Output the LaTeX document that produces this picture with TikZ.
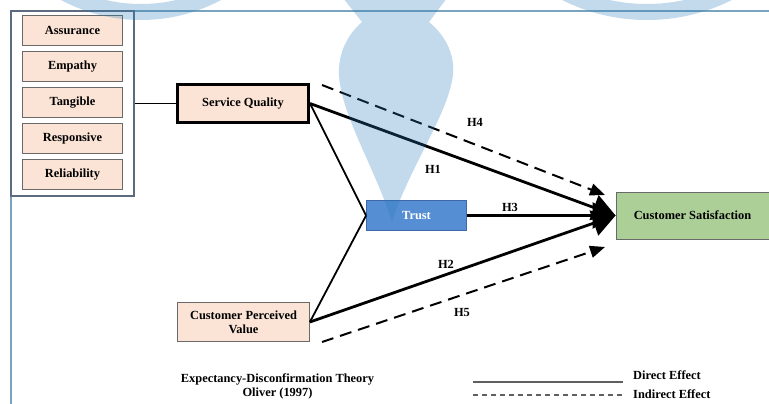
\documentclass[tikz,border=0pt]{standalone}
\usepackage{fontspec}
\setmainfont{Liberation Serif}
\usetikzlibrary{arrows.meta}

\definecolor{peach}{RGB}{251,228,214}
\definecolor{boxgray}{RGB}{105,105,105}
\definecolor{trustfill}{RGB}{86,142,212}
\definecolor{trustline}{RGB}{62,104,170}
\definecolor{satfill}{RGB}{172,207,152}
\definecolor{framec}{RGB}{122,164,190}
\definecolor{groupc}{RGB}{92,108,128}
\definecolor{markc}{RGB}{40,122,188}
\definecolor{legc}{RGB}{95,95,95}

\tikzset{
  dimbox/.style={draw=boxgray, fill=peach, line width=0.8pt, minimum width=100pt,
    minimum height=30pt, inner sep=0pt},
  constr/.style={draw=boxgray, fill=peach, line width=0.8pt, minimum width=132pt,
    minimum height=39pt, inner sep=0pt, align=center},
  thinlink/.style={line width=1.8pt, black},
  direct/.style={line width=2.8pt, black, -{Triangle[length=23pt,width=26pt]}},
  indirect/.style={line width=2pt, black, dash pattern=on 12pt off 7pt,
    -{Triangle[length=15pt,width=12pt]}},
  hyp/.style={inner sep=0pt},
}

\begin{document}
\begin{tikzpicture}[x=1pt, y=-1pt, font=\fontsize{12.4}{14}\selectfont\bfseries]
\useasboundingbox (0,0) rectangle (769,404);
\fill[white] (0,0) rectangle (769,404);

% outer frame (runs off the right and bottom edges)
\draw[framec, line width=1.2pt] (11,410) -- (11,11) -- (775,11);

% service-quality dimensions
\node[draw=groupc, line width=1.2pt, minimum width=123pt, minimum height=185pt,
  inner sep=0pt] (dims) at (72.5,103.5) {};
\node[dimbox] (ass) at (72.5,30.5) {Assurance};
\node[dimbox] (emp) at (72.5,66.5) {Empathy};
\node[dimbox] (tan) at (72.5,102.5) {Tangible};
\node[dimbox] (res) at (72.5,138.5) {Responsive};
\node[dimbox] (rel) at (72.5,174.5) {Reliability};

% constructs
\node[constr, draw=black, line width=3pt, minimum width=131pt, minimum height=38pt]
  (sq) at (243,103.5) {Service Quality};
\node[constr] (cpv) at (243.5,322) {Customer Perceived\\Value};
\node[draw=trustline, fill=trustfill, line width=0.8pt, minimum width=100pt,
  minimum height=30pt, inner sep=0pt, text=white] (trust) at (416.5,215.5) {Trust};
\node[draw=boxgray, fill=satfill, line width=0.8pt, minimum width=153pt,
  minimum height=47pt, inner sep=0pt] (cs) at (692.5,215.5) {Customer Satisfaction};

% connectors
\draw[thinlink] (dims.east |- sq.west) -- (sq.west);
\draw[thinlink] (sq.east) -- (trust.west);
\draw[thinlink] (cpv.east) -- (trust.west);
\draw[direct] (sq.east) -- (cs.west);
\draw[direct] (cpv.east) -- (cs.west);
\draw[direct] (trust.east) -- (cs.west);

\coordinate (h4s) at (322,85);
\coordinate (h4e) at (605,195);
\coordinate (h5s) at (322,342);
\coordinate (h5e) at (605,247);
\draw[indirect] (h4s) -- (h4e);
\draw[indirect] (h5s) -- (h5e);

% hypothesis labels
\node[hyp] (lh4) at (475,122) {H4};
\node[hyp] (lh1) at (433,169) {H1};
\node[hyp] (lh3) at (510,207) {H3};
\node[hyp] (lh2) at (446,264) {H2};
\node[hyp] (lh5) at (462,312) {H5};

% theory caption
\node[align=center, inner sep=0pt] (theory) at (277.5,386)
  {Expectancy-Disconfirmation Theory\\Oliver (1997)};

% legend
\coordinate (lda) at (473,382);
\coordinate (ldb) at (623,382);
\coordinate (lia) at (473,395);
\coordinate (lib) at (623,395);
\draw[legc, line width=1.5pt] (lda) -- (ldb);
\draw[legc, line width=1.3pt, dash pattern=on 5pt off 4pt] (lia) -- (lib);
\node[anchor=west, inner sep=0pt] (ldt) at (633,375) {Direct Effect};
\node[anchor=west, inner sep=0pt] (lit) at (633,394) {Indirect Effect};

% translucent emblem over the drawing
\begin{scope}[fill=markc, fill opacity=0.28]
  \fill[even odd rule] (141,-150) circle[radius=170pt] (141,-150) circle[radius=154pt];
  \fill[even odd rule] (647,-170) circle[radius=190pt] (647,-170) circle[radius=174pt];
  \fill (343,-2) -- (362,22)
    .. controls (346,36) and (338,55) .. (339,75)
    .. controls (341,115) and (376,170) .. (392,222)
    .. controls (408,170) and (448,115) .. (453,75)
    .. controls (455,55) and (446,36) .. (429,22)
    -- (447,-2) -- cycle;
\end{scope}
\end{tikzpicture}
\end{document}
